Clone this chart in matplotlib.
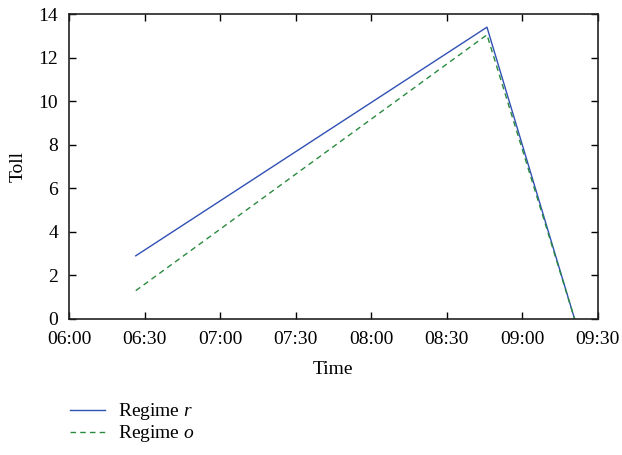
import matplotlib
matplotlib.use('Agg')
import matplotlib.pyplot as plt
from matplotlib.ticker import FuncFormatter, MultipleLocator

plt.rcParams['font.family'] = ['Liberation Serif', 'DejaVu Serif']
plt.rcParams['mathtext.fontset'] = 'custom'
plt.rcParams['mathtext.it'] = 'Liberation Serif:italic'
plt.rcParams['mathtext.rm'] = 'Liberation Serif'

# time in minutes after midnight
time_r = [6 * 60 + 26.5, 8 * 60 + 46, 9 * 60 + 20.8]
toll_r = [2.9, 13.4, 0.0]
time_o = [6 * 60 + 26.5, 8 * 60 + 46, 9 * 60 + 20.8]
toll_o = [1.3, 13.05, 0.0]

x_ticks = [360, 390, 420, 450, 480, 510, 540, 570]


def hhmm(v, pos):
    v = int(round(v))
    return '%02d:%02d' % (v // 60, v % 60)


fig = plt.figure(figsize=(6.22, 4.55), dpi=100)
ax = fig.add_axes([0.111, 0.299, 0.850, 0.670])

ax.plot(time_r, toll_r, color='#3050b4', lw=1.0, label='Regime $r$')
ax.plot(time_o, toll_o, color='#2a8a3e', lw=1.0, ls=(0, (4, 3)), label='Regime $o$')

ax.set_xlim(360, 570)
ax.set_ylim(0, 14)
ax.set_xticks(x_ticks)
ax.xaxis.set_major_formatter(FuncFormatter(hhmm))
ax.yaxis.set_major_locator(MultipleLocator(2))
ax.tick_params(direction='in', top=True, right=True, labelsize=14, length=5, width=1)
ax.tick_params(axis='x', pad=9)
ax.tick_params(axis='y', pad=8)
for s in ax.spines.values():
    s.set_linewidth(1.2)
    s.set_color('#222222')

ax.set_xlabel('Time', fontsize=14, labelpad=9)
ax.set_ylabel('Toll', fontsize=14, labelpad=8)

leg = ax.legend(loc='upper left', bbox_to_anchor=(-0.012, -0.245), frameon=False,
                fontsize=14, handlelength=1.75, handletextpad=0.7, labelspacing=0.05,
                borderaxespad=0)

fig.savefig('out.png', dpi=100)
